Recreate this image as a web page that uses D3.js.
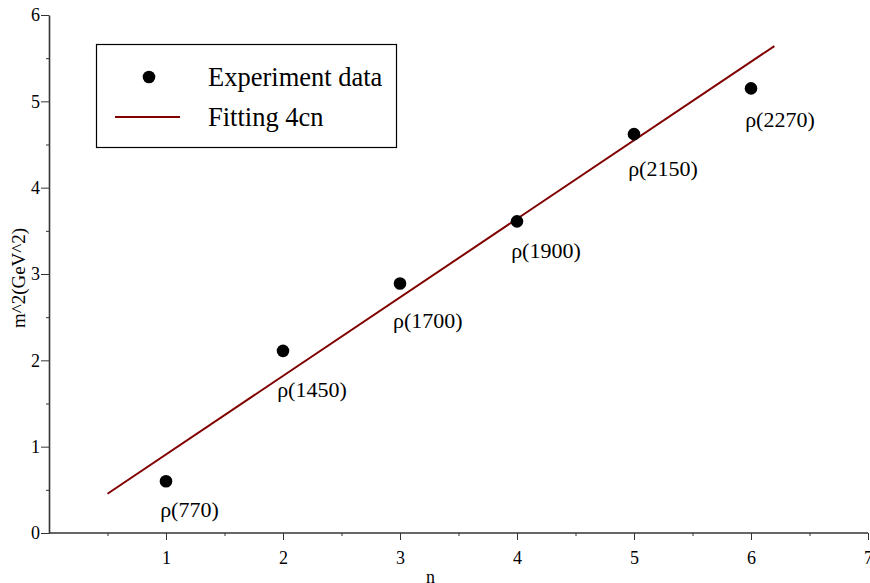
<!DOCTYPE html>
<html>
<head>
<meta charset="utf-8">
<script src="https://cdn.jsdelivr.net/npm/d3@7"></script>
<style>
  html, body { margin: 0; padding: 0; background: #fff; }
  svg { display: block; font-family: "Liberation Serif", "DejaVu Serif", serif; }
</style>
</head>
<body>
<svg id="chart" width="870" height="583"></svg>
<script>
// ---- data ----
const nValues = [1, 2, 3, 4, 5, 6];
const m2Values = [0.60, 2.11, 2.89, 3.61, 4.62, 5.15];
const stateLabels = ["ρ(770)", "ρ(1450)", "ρ(1700)", "ρ(1900)", "ρ(2150)", "ρ(2270)"];
const labelN = [0.95, 1.95, 2.94, 3.95, 4.95, 5.95];
const labelM2 = [0.185, 1.58, 2.38, 3.19, 4.13, 4.70];
const fitN = [0.5, 6.2];
const fitM2 = [0.455, 5.64];
const xTicks = [1, 2, 3, 4, 5, 6, 7];
const xMinorTicks = [0.5, 1.5, 2.5, 3.5, 4.5, 5.5, 6.5];
const yTicks = [0, 1, 2, 3, 4, 5, 6];
const yMinorTicks = [0.5, 1.5, 2.5, 3.5, 4.5, 5.5];
const legendLabels = ["Experiment data", "Fitting 4cn"];

// ---- layout ----
const svg = d3.select("#chart");
const x = d3.scaleLinear().domain([0, 7]).range([49, 868]);
const y = d3.scaleLinear().domain([0, 6]).range([533, 15]);
const axisColor = "#333";
const fitColor = "#800000";

// minor ticks
svg.append("g").attr("transform", `translate(0,${y(0)})`)
  .call(d3.axisBottom(x).tickValues(xMinorTicks).tickSize(3).tickSizeOuter(0).tickFormat(""))
  .call(g => g.select(".domain").remove())
  .call(g => g.selectAll("line").attr("stroke", axisColor));
svg.append("g").attr("transform", `translate(${x(0)},0)`)
  .call(d3.axisLeft(y).tickValues(yMinorTicks).tickSize(3).tickSizeOuter(0).tickFormat(""))
  .call(g => g.select(".domain").remove())
  .call(g => g.selectAll("line").attr("stroke", axisColor));

// major axes
const xAxis = svg.append("g").attr("transform", `translate(0,${y(0)})`)
  .call(d3.axisBottom(x).tickValues(xTicks).tickSize(7).tickSizeOuter(0).tickPadding(11).tickFormat(d3.format("d")));
xAxis.select(".domain").attr("d", `M${x(0)},0H${x(7)}`).attr("stroke", axisColor).attr("stroke-width", 1.6);
xAxis.selectAll("line").attr("stroke", axisColor);
xAxis.selectAll("text").attr("font-family", "Liberation Serif").attr("font-size", 18).attr("fill", "#000");

const yAxis = svg.append("g").attr("transform", `translate(${x(0)},0)`)
  .call(d3.axisLeft(y).tickValues(yTicks).tickSize(8).tickSizeOuter(0).tickPadding(1).tickFormat(d3.format("d")));
yAxis.select(".domain").attr("stroke", axisColor).attr("stroke-width", 1.6);
yAxis.selectAll("line").attr("stroke", axisColor);
yAxis.selectAll("text").attr("font-family", "Liberation Serif").attr("font-size", 18).attr("fill", "#000");

// axis titles
svg.append("text").attr("x", (x(0) + x(7)) / 2 - 28).attr("y", 583)
  .attr("text-anchor", "middle").attr("font-size", 18).text("n");
svg.append("text")
  .attr("transform", `translate(25,${(y(0) + y(6)) / 2 + 4}) rotate(-90)`)
  .attr("text-anchor", "middle").attr("font-size", 19).text("m^2(GeV^2)");

// fit line
svg.append("path")
  .datum(fitN.map((n, i) => [n, fitM2[i]]))
  .attr("fill", "none").attr("stroke", fitColor).attr("stroke-width", 2)
  .attr("d", d3.line().x(d => x(d[0])).y(d => y(d[1])));

// points
svg.append("g").selectAll("circle")
  .data(nValues.map((n, i) => [n, m2Values[i]]))
  .join("circle")
  .attr("cx", d => x(d[0])).attr("cy", d => y(d[1])).attr("r", 6.3).attr("fill", "#000");

// labels
svg.append("g").selectAll("text")
  .data(stateLabels.map((t, i) => ({ t, n: labelN[i], m: labelM2[i] })))
  .join("text")
  .attr("x", d => x(d.n)).attr("y", d => y(d.m))
  .attr("font-size", 22).attr("fill", "#000").text(d => d.t);

// legend
const lg = svg.append("g");
lg.append("rect").attr("x", 96.5).attr("y", 44.5).attr("width", 300).attr("height", 103)
  .attr("fill", "#fff").attr("stroke", "#000").attr("stroke-width", 1.2);
lg.append("circle").attr("cx", 149).attr("cy", 77).attr("r", 6.3).attr("fill", "#000");
lg.append("line").attr("x1", 115).attr("x2", 180).attr("y1", 117).attr("y2", 117)
  .attr("stroke", fitColor).attr("stroke-width", 2);
lg.selectAll("text.lab").data(legendLabels).join("text").attr("class", "lab")
  .attr("x", 208).attr("y", (d, i) => 86 + i * 40)
  .attr("font-size", 26.5).attr("fill", "#000").text(d => d);
</script>
</body>
</html>
